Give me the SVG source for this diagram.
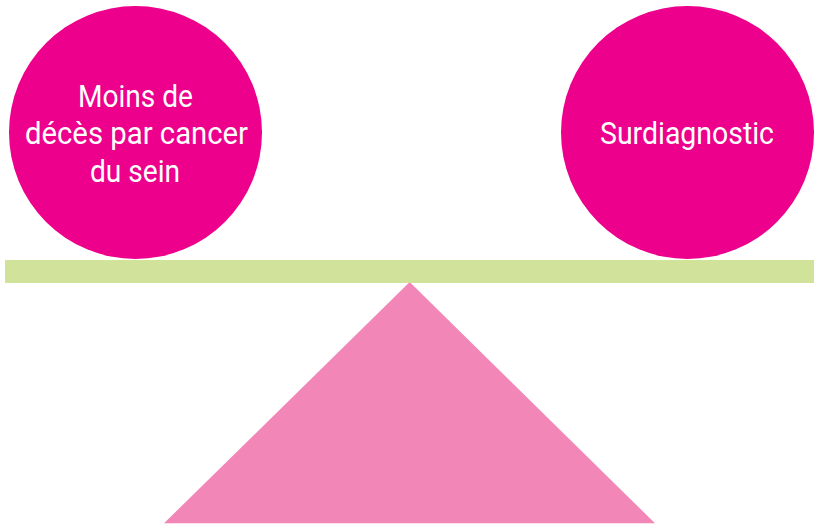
<svg xmlns="http://www.w3.org/2000/svg" width="818" height="525" viewBox="0 0 818 525">
<style>
.ball{fill:#ec008c}
.lbl{font-family:Roboto,"Liberation Sans",sans-serif;font-size:32px;fill:#ffffff;text-anchor:middle}
</style>
<rect width="818" height="525" fill="#ffffff"/>
<g id="fulcrum"><polygon points="409.7,282 655,523.3 164,523.3" fill="#f287b7"/></g>
<g id="beam"><rect x="5" y="260" width="809" height="23" fill="#d1e39b"/></g>
<g id="benefit">
<circle class="ball" cx="135.5" cy="132.5" r="126.5"/>
<text class="lbl" x="135.5" y="107" textLength="115" lengthAdjust="spacingAndGlyphs">Moins de</text>
<text class="lbl" x="136.5" y="144" textLength="223" lengthAdjust="spacingAndGlyphs">décès par cancer</text>
<text class="lbl" x="135" y="182" textLength="90" lengthAdjust="spacingAndGlyphs">du sein</text>
</g>
<g id="harm">
<circle class="ball" cx="687.5" cy="132.5" r="126.5"/>
<text class="lbl" x="687" y="144" textLength="174" lengthAdjust="spacingAndGlyphs">Surdiagnostic</text>
</g>
<g id="connectors"/>
</svg>
